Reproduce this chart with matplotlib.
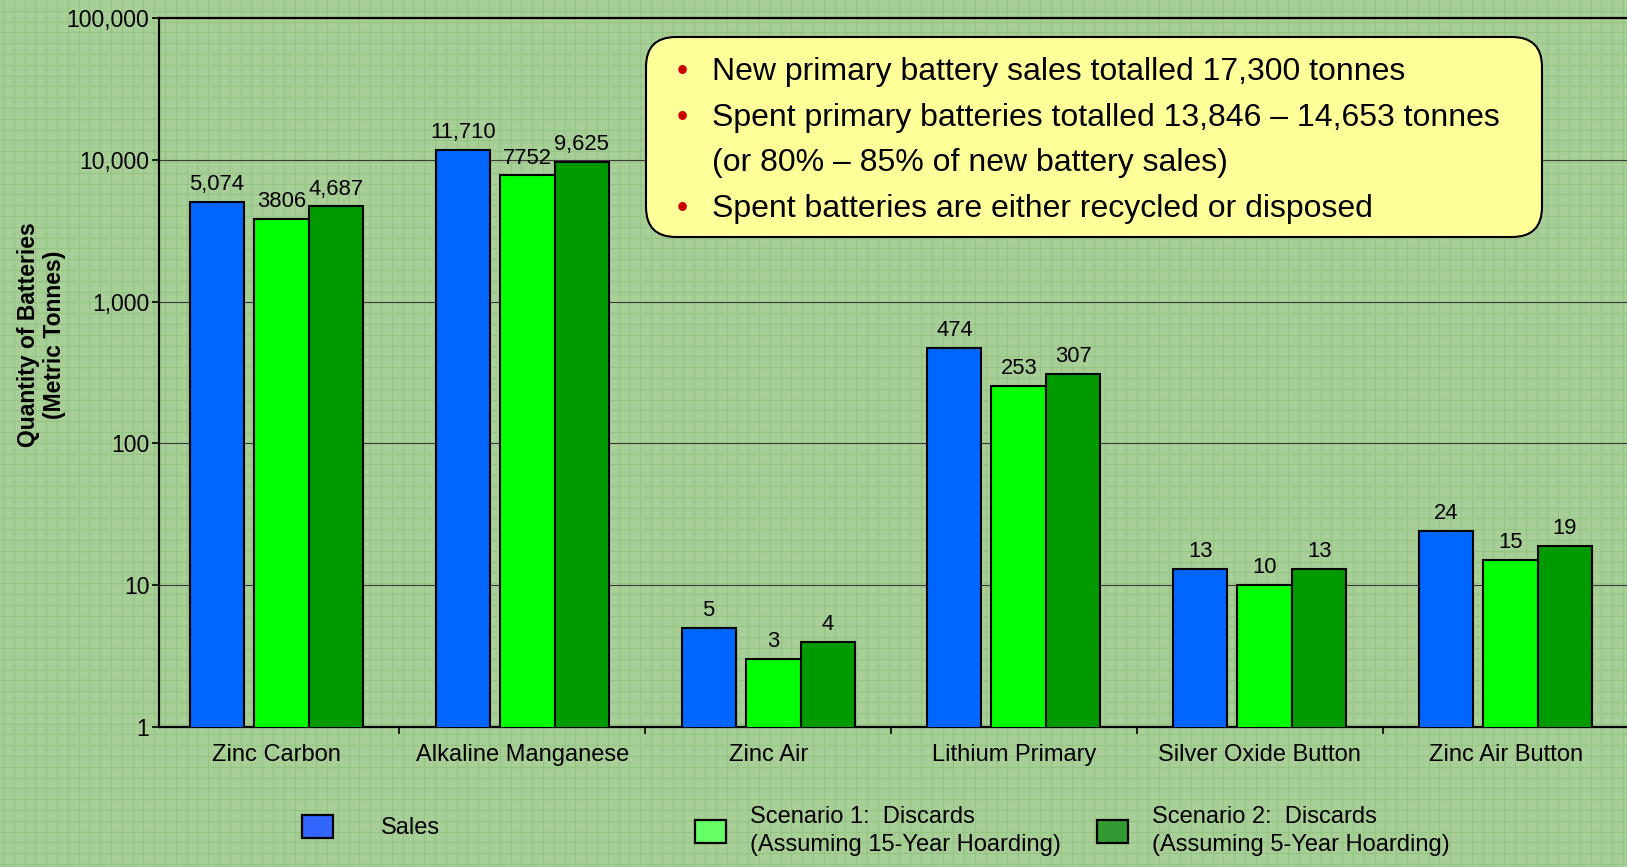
import numpy as np
import matplotlib
matplotlib.use("Agg")
import matplotlib.pyplot as plt
from matplotlib.patches import FancyBboxPatch, Patch
from matplotlib.collections import LineCollection
from matplotlib.transforms import IdentityTransform
from matplotlib.ticker import FixedLocator, FuncFormatter, NullLocator

plt.rcParams['font.family'] = ['Liberation Sans', 'DejaVu Sans']

# ---------------- data ----------------
categories = ["Zinc Carbon", "Alkaline Manganese", "Zinc Air",
              "Lithium Primary", "Silver Oxide Button", "Zinc Air Button"]
sales = [5074, 11710, 5, 474, 13, 24]
scenario1 = [3806, 7752, 3, 253, 10, 15]
scenario2 = [4687, 9625, 4, 307, 13, 19]
series_names = ["Sales",
                "Scenario 1:  Discards\n(Assuming 15-Year Hoarding)",
                "Scenario 2:  Discards\n(Assuming 5-Year Hoarding)"]
label_formats = ["{:,}", "{}", "{:,}"]
ytick_values = [1, 10, 100, 1000, 10000, 100000]
notes = ["New primary battery sales totalled 17,300 tonnes",
         "Spent primary batteries totalled 13,846 \u2013 14,653 tonnes",
         "(or 80% \u2013 85% of new battery sales)",
         "Spent batteries are either recycled or disposed"]
note_bullets = [True, True, False, True]

# ---------------- styling ----------------
W, H = 1627, 867
def fx(px): return px / W
def fy(py): return 1 - py / H

bg = "#A9CF98"
gridc = "#96C586"
bar_colors = ["#0066FF", "#00FF00", "#009900"]
legend_colors = ["#3366FF", "#66FF66", "#339933"]

fig = plt.figure(figsize=(W / 100, H / 100), dpi=100, facecolor=bg)

# graph-paper background
step = 10.8
segs = []
for xx in np.arange(3, W, step):
    segs.append([(xx, 0), (xx, H)])
for yy in np.arange(3, H, step):
    segs.append([(0, yy), (W, yy)])
lc = LineCollection(segs, colors=gridc, linewidths=1.0, transform=IdentityTransform(), zorder=-10)
fig.add_artist(lc)

ax_left, ax_top, ax_bottom, ax_right = 159, 18, 727, 1627
ax = fig.add_axes([fx(ax_left), fy(ax_bottom), fx(ax_right - ax_left), (ax_bottom - ax_top) / H])
ax.set_facecolor("none")

x = np.arange(len(categories))
offsets = [-0.242, 0.020, 0.242]
widths = [0.22, 0.224, 0.22]
for vals, off, w, col, fmt in zip([sales, scenario1, scenario2], offsets, widths, bar_colors, label_formats):
    bars = ax.bar(x + off, vals, width=w, color=col, edgecolor="black", linewidth=1.5, zorder=3)
    ax.bar_label(bars, labels=[fmt.format(v) for v in vals], padding=5, fontsize=15.8, zorder=4)

ax.set_yscale("log")
ax.set_ylim(1, 100000)
ax.set_xlim(-0.478, 5.494)
ax.yaxis.set_major_locator(FixedLocator(ytick_values))
ax.yaxis.set_minor_locator(NullLocator())
ax.yaxis.set_major_formatter(FuncFormatter(lambda v, p: "{:,}".format(int(round(v)))))
ax.tick_params(axis="y", labelsize=16.5, length=5, width=1.2, pad=2, direction="out")
ax.grid(axis="y", which="major", color="#3a3a3a", linewidth=0.8, zorder=1)
ax.set_axisbelow(True)

ax.set_xticks(x)
ax.set_xticklabels(categories, fontsize=17)
ax.tick_params(axis="x", which="major", length=0, pad=12)
ax.set_xticks(x[:-1] + 0.5, minor=True)
ax.tick_params(axis="x", which="minor", length=5, width=1.2, direction="out")

for s in ["left", "bottom", "top"]:
    ax.spines[s].set_linewidth(1.6)
ax.spines["right"].set_visible(False)

ax.set_ylabel("Quantity of Batteries\n(Metric Tonnes)", fontsize=16.5, fontweight="bold", linespacing=1.15)
ax.yaxis.set_label_coords(fx(66), fy(335), transform=fig.transFigure)

# annotation box
box = FancyBboxPatch((646, H - 237), 896, 200, boxstyle="round,pad=0,rounding_size=30",
                     transform=IdentityTransform(), facecolor="#FFFF99", edgecolor="black",
                     linewidth=1.5, zorder=5)
fig.add_artist(box)
baselines = [80, 126, 171, 217]
for txt, bl, has_b in zip(notes, baselines, note_bullets):
    if has_b:
        fig.text(fx(682), fy(bl), "\u2022", color="#CC0000", fontsize=23, ha="center", va="baseline", zorder=6)
    fig.text(fx(712), fy(bl), txt, fontsize=23, ha="left", va="baseline", zorder=6)

# legend
leg_fs = 17
fs_px = leg_fs * 100 / 72
leg_pos = [(302, 827, 48), (695, 831, 24), (1097, 831, 24)]
for name, col, (lx, ly, pad) in zip(series_names, legend_colors, leg_pos):
    h = Patch(facecolor=col, edgecolor="black", linewidth=1.6)
    leg = fig.legend([h], [name], loc="center left", bbox_to_anchor=(fx(lx), fy(ly)),
                     frameon=False, fontsize=leg_fs, borderpad=0, borderaxespad=0,
                     handlelength=31 / fs_px, handleheight=26 / fs_px, handletextpad=pad / fs_px)
    for t in leg.get_texts():
        t.set_linespacing(1.3)

fig.savefig("out.png", dpi=100, facecolor=bg)
